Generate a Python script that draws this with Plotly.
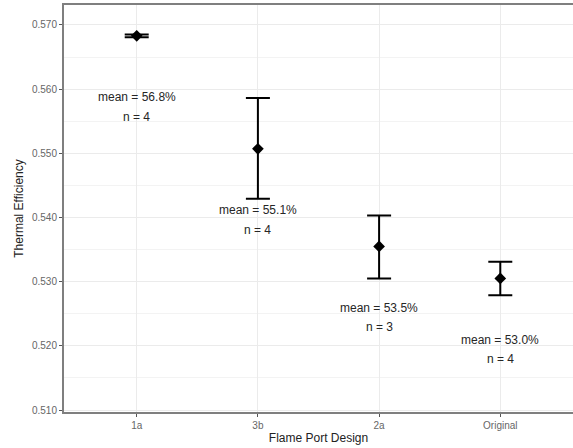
import plotly.graph_objects as go

designs = ["1a", "3b", "2a", "Original"]
means = [0.5683, 0.5507, 0.5355, 0.5305]
upper = [0.56852, 0.5586, 0.5403, 0.5331]
lower = [0.56808, 0.5429, 0.5305, 0.5279]
label_mean = ["56.8%", "55.1%", "53.5%", "53.0%"]
label_n = [4, 4, 3, 4]

xpos = [1, 2, 3, 4]
err_plus = [u - m for u, m in zip(upper, means)]
err_minus = [m - l for m, l in zip(means, lower)]

fig = go.Figure()
fig.add_trace(go.Scatter(
    x=xpos, y=means, mode="markers",
    marker=dict(symbol="diamond", size=9, color="black"),
    error_y=dict(type="data", symmetric=False, array=err_plus, arrayminus=err_minus,
                 color="black", thickness=2, width=12),
    showlegend=False, hoverinfo="skip",
))

off_mean = 0.0096
off_n = 0.0126
lab_font = dict(family="Liberation Sans, Arial", size=12, color="#262626")
for x, m, lm, n in zip(xpos, means, label_mean, label_n):
    fig.add_annotation(x=x, y=m - off_mean, xref="x", yref="y",
                       text=f"mean = {lm}", showarrow=False, font=lab_font,
                       yanchor="middle")
    fig.add_annotation(x=x, y=m - off_n, xref="x", yref="y",
                       text=f"n = {n}", showarrow=False, font=lab_font,
                       yanchor="middle")

fig.update_layout(
    width=573, height=448,
    margin=dict(l=64, r=0, t=5, b=36),
    paper_bgcolor="white", plot_bgcolor="white",
    font=dict(family="Liberation Sans, Arial", size=10, color="#4D4D4D"),
    xaxis=dict(
        range=[0.4, 4.6], tickvals=xpos, ticktext=designs,
        showgrid=True, gridcolor="#EBEBEB", gridwidth=1,
        showline=True, linecolor="#7F7F7F", linewidth=2, mirror=True,
        ticks="outside", ticklen=3, tickcolor="#555", tickwidth=1,
        tickfont=dict(size=10, color="#666"),
        title=dict(text="Flame Port Design", standoff=4,
                   font=dict(size=12, color="#222")),
        zeroline=False,
    ),
    yaxis=dict(
        range=[0.5097, 0.5731],
        tickvals=[0.51, 0.52, 0.53, 0.54, 0.55, 0.56, 0.57],
        tickformat=".3f",
        showgrid=True, gridcolor="#EBEBEB", gridwidth=1,
        minor=dict(tickvals=[0.515, 0.525, 0.535, 0.545, 0.555, 0.565],
                   showgrid=True, gridcolor="#F3F3F3", gridwidth=1, ticks=""),
        showline=True, linecolor="#7F7F7F", linewidth=2,
        ticks="outside", ticklen=3, tickcolor="#555", tickwidth=1,
        tickfont=dict(size=10, color="#666"),
        title=dict(text="Thermal Efficiency", standoff=6,
                   font=dict(size=12, color="#222")),
        zeroline=False,
    ),
)

fig.write_html("out.html")
